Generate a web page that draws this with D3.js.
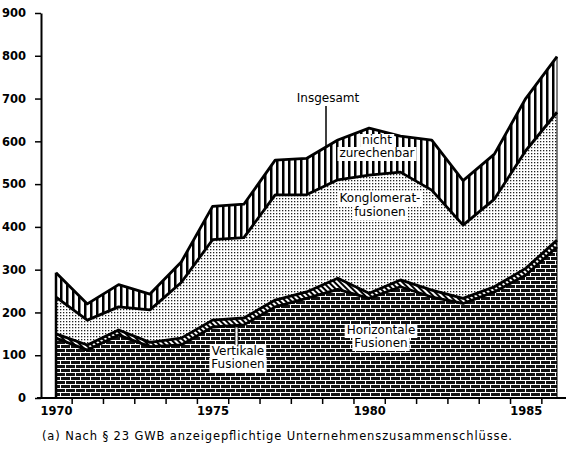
<!DOCTYPE html>
<html>
<head>
<meta charset="utf-8">
<script src="https://cdn.jsdelivr.net/npm/d3@7/dist/d3.min.js"></script>
<style>
  body { margin: 0; background: #fff; }
  text { font-family: "DejaVu Sans", sans-serif; fill: #000; }
</style>
</head>
<body>
<svg id="chart" width="568" height="454"></svg>
<script>
// Unternehmenszusammenschluesse nach Art, 1970-1986
var years = [1970, 1971, 1972, 1973, 1974, 1975, 1976, 1977, 1978, 1979, 1980, 1981, 1982, 1983, 1984, 1985, 1986];
var horizontal   = [140, 112, 147, 120, 124, 166, 171, 213, 233, 254, 233, 260, 236, 221, 248, 287, 353];
var vertical     = [ 10,  12,  12,  10,  16,  16,  16,  16,  15,  26,  12,  16,  16,  12,  12,  16,  16];
var conglomerate = [ 86,  58,  54,  76, 130, 188, 188, 246, 227, 230, 276, 252, 234, 171, 205, 275, 299];
var unassigned   = [ 57,  38,  52,  37,  48,  78,  78,  81,  85,  93, 110,  84, 117, 104, 105, 122, 130];
var yTicks = [0, 100, 200, 300, 400, 500, 600, 700, 800, 900];
var xLabels = [1970, 1975, 1980, 1985];
var xTicks = [1970.5, 1971.5, 1972.5, 1973.5, 1974.5, 1975.5, 1976.5, 1977.5, 1978.5, 1979.5, 1980.5, 1981.5, 1982.5, 1983.5, 1984.5, 1985.5];

var svg = d3.select('#chart');

var x = d3.scaleLinear().domain([1970, 1986]).range([56, 557]);
var y = d3.scaleLinear().domain([0, 900]).range([398, 13]);

// fill patterns like the printed original
var defs = svg.append('defs');

var brick = defs.append('pattern').attr('id', 'p0')
  .attr('width', 10).attr('height', 8).attr('patternUnits', 'userSpaceOnUse');
brick.append('rect').attr('width', 10).attr('height', 8).attr('fill', '#111');
brick.append('rect').attr('x', 0).attr('y', 0).attr('width', 10).attr('height', 1).attr('fill', '#fff');
brick.append('rect').attr('x', 0).attr('y', 4).attr('width', 10).attr('height', 1).attr('fill', '#fff');
brick.append('rect').attr('x', 0).attr('y', 0).attr('width', 1).attr('height', 4).attr('fill', '#fff');
brick.append('rect').attr('x', 5).attr('y', 4).attr('width', 1).attr('height', 4).attr('fill', '#fff');

var diag = defs.append('pattern').attr('id', 'p1')
  .attr('width', 4).attr('height', 4).attr('patternUnits', 'userSpaceOnUse')
  .attr('patternTransform', 'rotate(-45)');
diag.append('rect').attr('width', 4).attr('height', 4).attr('fill', '#fff');
diag.append('rect').attr('width', 2).attr('height', 4).attr('fill', '#000');

var dots = defs.append('pattern').attr('id', 'p2')
  .attr('width', 3).attr('height', 3).attr('patternUnits', 'userSpaceOnUse');
dots.append('rect').attr('width', 3).attr('height', 3).attr('fill', '#fff');
dots.append('rect').attr('width', 1.3).attr('height', 1.3).attr('fill', '#222');

var stripes = defs.append('pattern').attr('id', 'p3')
  .attr('width', 6).attr('height', 6).attr('patternUnits', 'userSpaceOnUse');
stripes.append('rect').attr('width', 6).attr('height', 6).attr('fill', '#fff');
stripes.append('rect').attr('width', 2.5).attr('height', 6).attr('fill', '#000');

// stacked layers
var rows = years.map(function(yr, i) {
  return {year: yr, h: horizontal[i], v: vertical[i], k: conglomerate[i], n: unassigned[i]};
});
var layers = d3.stack().keys(['h', 'v', 'k', 'n'])(rows);

var area = d3.area()
  .x(function(d) { return x(d.data.year); })
  .y0(function(d) { return y(d[0]); })
  .y1(function(d) { return y(d[1]); });

svg.selectAll('.layer').data(layers).enter().append('path')
  .attr('class', 'layer')
  .attr('d', area)
  .attr('fill', function(d, i) { return 'url(#p' + i + ')'; });

var topLine = d3.line()
  .x(function(d) { return x(d.data.year); })
  .y(function(d) { return y(d[1]); });

svg.selectAll('.edge').data(layers).enter().append('path')
  .attr('class', 'edge')
  .attr('d', topLine)
  .attr('fill', 'none')
  .attr('stroke', '#000')
  .attr('stroke-width', 2.8)
  .attr('stroke-linejoin', 'round');

var last = layers[layers.length - 1];
svg.append('line')
  .attr('x1', x(1970)).attr('x2', x(1970))
  .attr('y1', y(0)).attr('y2', y(last[0][1]))
  .attr('stroke', '#000').attr('stroke-width', 2.5);
svg.append('line')
  .attr('x1', x(1986)).attr('x2', x(1986))
  .attr('y1', y(0)).attr('y2', y(last[16][1]))
  .attr('stroke', '#000').attr('stroke-width', 1);

// axes
var yAxis = svg.append('g')
  .attr('transform', 'translate(41,0)')
  .call(d3.axisLeft(y).tickValues(yTicks).tickSize(6).tickSizeOuter(0).tickPadding(9));
yAxis.select('.domain').attr('stroke-width', 2);
yAxis.selectAll('.tick line').attr('stroke-width', 1.5);
yAxis.selectAll('text').attr('font-size', 11.5).attr('font-weight', 'bold')
  .style('font-family', '"DejaVu Sans", sans-serif');

svg.append('line')
  .attr('x1', 37).attr('x2', 566)
  .attr('y1', y(0)).attr('y2', y(0))
  .attr('stroke', '#000').attr('stroke-width', 2);

var xAxis = svg.append('g')
  .attr('transform', 'translate(0,' + y(0) + ')')
  .call(d3.axisBottom(x).tickValues(xTicks).tickSize(6).tickFormat(''));
xAxis.select('.domain').remove();
xAxis.selectAll('.tick line').attr('stroke-width', 1.5);

var xLab = svg.append('g')
  .attr('transform', 'translate(0,' + y(0) + ')')
  .call(d3.axisBottom(x).tickValues(xLabels).tickSize(0).tickPadding(9).tickFormat(d3.format('d')));
xLab.select('.domain').remove();
xLab.selectAll('text').attr('font-size', 11.5).attr('font-weight', 'bold')
  .style('font-family', '"DejaVu Sans", sans-serif');

// labels inside the chart, on white boxes
function boxLabel(lines, cx, top, lh) {
  var g = svg.append('g');
  var boxes = g.append('g');
  lines.forEach(function(s, i) {
    var t = g.append('text')
      .attr('x', cx).attr('y', top + i * lh)
      .attr('text-anchor', 'middle')
      .attr('font-size', 12)
      .text(s);
    var b = t.node().getBBox();
    boxes.append('rect')
      .attr('x', b.x - 2).attr('y', b.y + 1)
      .attr('width', b.width + 4).attr('height', b.height)
      .attr('fill', '#fff');
  });
}

svg.append('line')
  .attr('x1', 326).attr('x2', 326).attr('y1', 106).attr('y2', 148)
  .attr('stroke', '#000').attr('stroke-width', 1.5);
svg.append('text').attr('x', 328).attr('y', 102).attr('text-anchor', 'middle')
  .attr('font-size', 12).text('Insgesamt');

boxLabel(['nicht', 'zurechenbar'], 377, 144, 13);
boxLabel(['Konglomerat-', 'fusionen'], 380, 202, 14);
boxLabel(['Horizontale', 'Fusionen'], 381, 334, 13);

svg.append('rect').attr('x', 235).attr('y', 327).attr('width', 3).attr('height', 19)
  .attr('fill', '#fff').attr('stroke', '#000').attr('stroke-width', 0.8);
boxLabel(['Vertikale', 'Fusionen'], 238, 355, 13);

svg.append('text').attr('x', 42).attr('y', 440)
  .attr('font-size', 11.5)
  .attr('textLength', 470).attr('lengthAdjust', 'spacing')
  .text('(a) Nach § 23 GWB anzeigepflichtige Unternehmenszusammenschlüsse.');
</script>
</body>
</html>
